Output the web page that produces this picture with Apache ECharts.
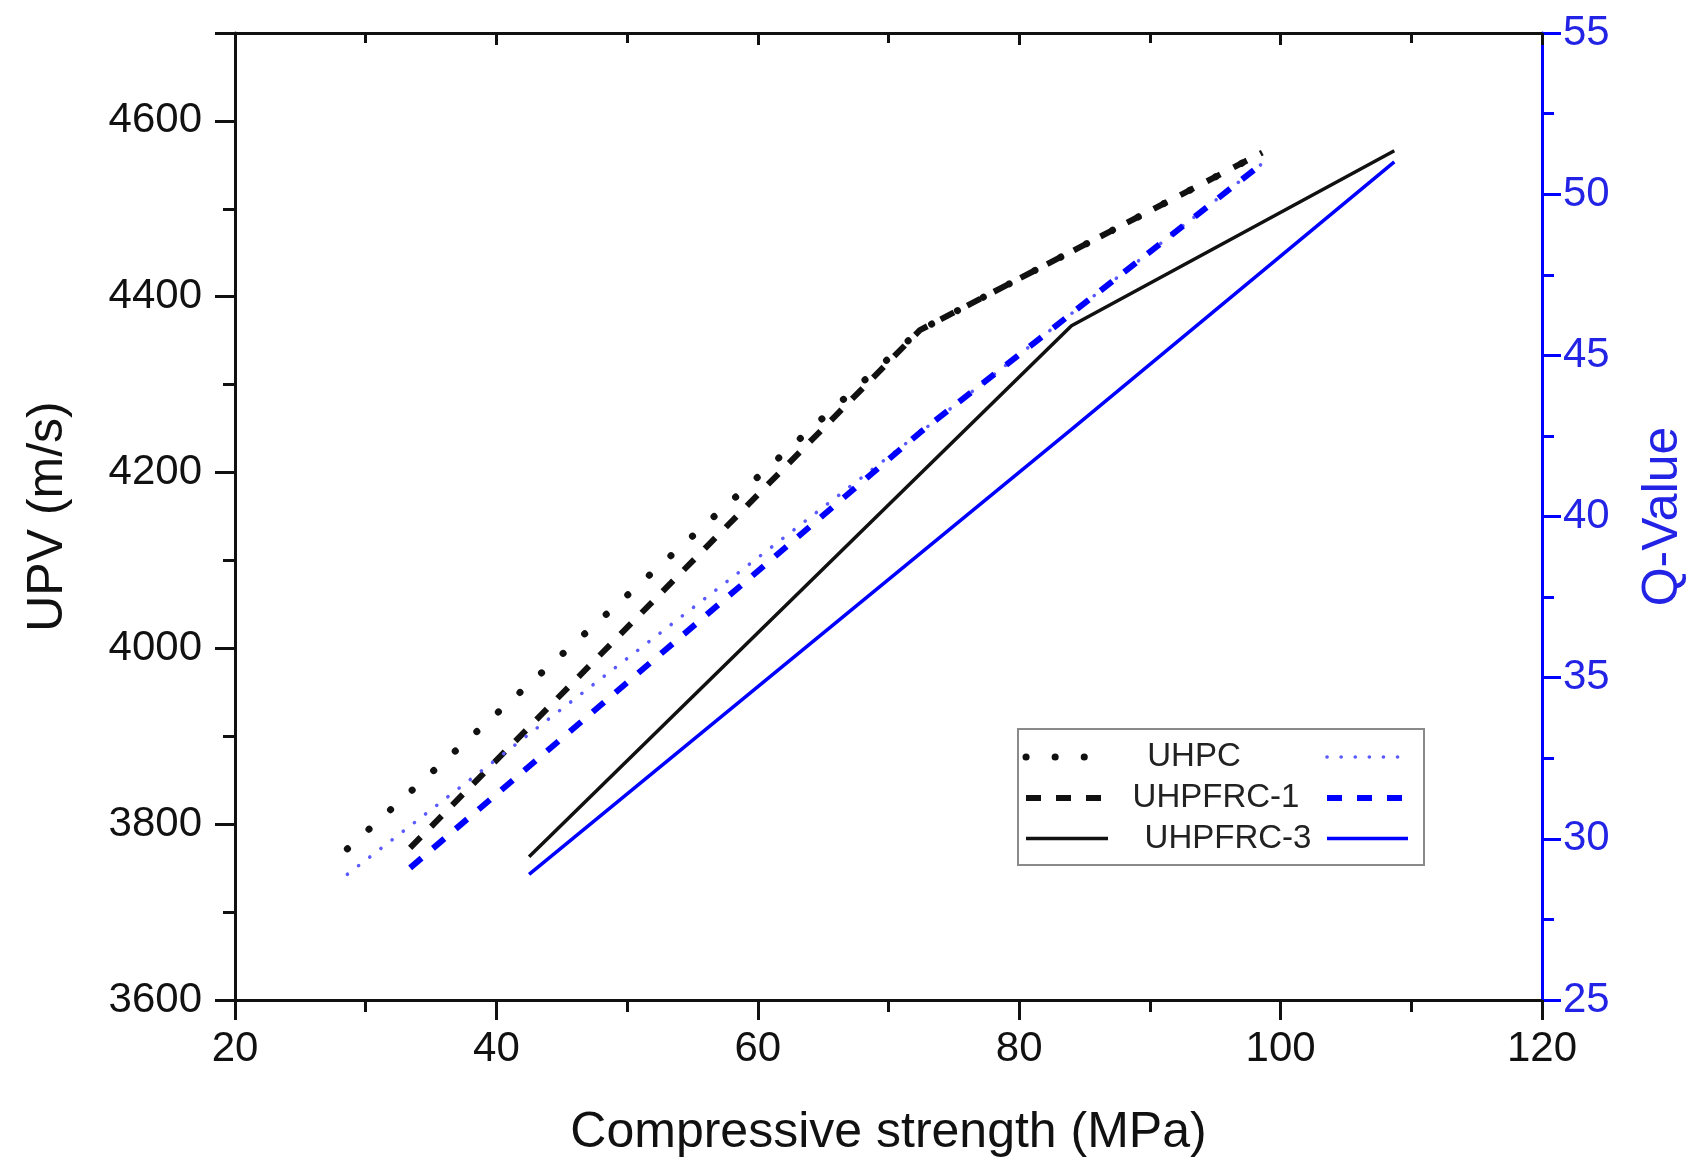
<!DOCTYPE html>
<html>
<head>
<meta charset="utf-8">
<script src="https://cdn.jsdelivr.net/npm/echarts@6/dist/echarts.min.js"></script>
<style>
html,body{margin:0;padding:0;background:#fff;}
#chart{width:1703px;height:1169px;}
</style>
</head>
<body>
<div id="chart"></div>
<script>
// ---- data ----
const seriesNames = ['UHPC', 'UHPFRC-1', 'UHPFRC-3'];
const strengthUHPC = [28.6, 72.4, 98.6];
const upvUHPC = [3772, 4362, 4564];
const qUHPC = [28.9, 42.6, 50.95];
const strengthUHPFRC1 = [33.4, 72.4, 98.6];
const upvUHPFRC1 = [3773, 4362, 4564];
const qUHPFRC1 = [29.1, 42.6, 50.95];
const strengthUHPFRC3 = [42.5, 84.0, 108.7];
const upvUHPFRC3 = [3763, 4367, 4566];
const qUHPFRC3 = [28.9, 42.7, 51.0];

function pairs(xs, ys){ return xs.map((x,i)=>[x, ys[i]]); }

const FONT = '"Liberation Sans", Arial, sans-serif';
const BLUE = '#0000ff';
const BLUE_TXT = '#2323e6';
const BLACK = '#111111';

const chart = echarts.init(document.getElementById('chart'), null, {renderer:'canvas'});

// line styles: [color, width, dash, cap]
const styles = {
  dotBlack:  {color: BLACK, width: 7, dash: [0.1, 29], cap: 'round'},
  dashBlack: {color: BLACK, width: 6, dash: [15, 15], cap: 'butt'},
  solidBlack:{color: BLACK, width: 3.5, dash: null, cap: 'butt'},
  dotBlue:   {color: '#5a5aff', width: 3.6, dash: [0.1, 14], cap: 'round'},
  dashBlue:  {color: BLUE, width: 6, dash: [15, 15], cap: 'butt'},
  solidBlue: {color: BLUE, width: 3.5, dash: null, cap: 'butt'}
};

function lineSeries(name, xs, ys, yIdx, s){
  return {
    name: name, type: 'line', xAxisIndex: 0, yAxisIndex: yIdx,
    data: pairs(xs, ys), showSymbol: false, symbol: 'none',
    lineStyle: {color: s.color, width: s.width, type: s.dash || 'solid', cap: s.cap},
    itemStyle: {color: s.color}, silent: true
  };
}

// legend drawn as graphic elements (layout only)
const legendRows = [
  {name: seriesNames[0], left: styles.dotBlack, right: styles.dotBlue, cx: 1194},
  {name: seriesNames[1], left: styles.dashBlack, right: styles.dashBlue, cx: 1216},
  {name: seriesNames[2], left: styles.solidBlack, right: styles.solidBlue, cx: 1228}
];
const legendRowY = [757, 798, 838.5];
const legendGraphics = [{
  type: 'rect', z: 100,
  shape: {x: 1018, y: 729, width: 406, height: 136},
  style: {fill: '#fff', stroke: '#8a8a8a', lineWidth: 2}
}];
legendRows.forEach((r, i) => {
  const y = legendRowY[i];
  [[r.left, 1026, 1108], [r.right, 1327, 1408]].forEach(([s, x1, x2]) => {
    legendGraphics.push({
      type: 'line', z: 101,
      shape: {x1: x1, y1: y, x2: x2, y2: y},
      style: {stroke: s.color, lineWidth: s.width, lineDash: s.dash, lineCap: s.cap}
    });
  });
  legendGraphics.push({
    type: 'text', z: 101, x: r.cx, y: y,
    style: {text: r.name, font: '33px ' + FONT, fill: '#222', align: 'center', verticalAlign: 'middle'}
  });
});

const option = {
  animation: false,
  backgroundColor: '#ffffff',
  grid: {left: 235, right: 161, top: 33, bottom: 169, containLabel: false},
  xAxis: [{
    type: 'value', position: 'bottom', min: 20, max: 120, interval: 20,
    name: 'Compressive strength (MPa)', nameLocation: 'middle', nameGap: 108,
    nameTextStyle: {fontFamily: FONT, fontSize: 50, color: BLACK},
    axisLine: {show: true, onZero: false, lineStyle: {color: BLACK, width: 3}},
    axisTick: {show: true, inside: false, length: 20, lineStyle: {color: BLACK, width: 3}},
    minorTick: {show: true, splitNumber: 2, length: 12, lineStyle: {color: BLACK, width: 3}},
    axisLabel: {fontFamily: FONT, fontSize: 42, color: BLACK, margin: 28},
    splitLine: {show: false}
  }, {
    type: 'value', position: 'top', min: 20, max: 120, interval: 20,
    axisLine: {show: true, onZero: false, lineStyle: {color: BLACK, width: 3}},
    axisTick: {show: true, inside: true, length: 12, lineStyle: {color: BLACK, width: 3}},
    minorTick: {show: true, splitNumber: 2, length: 10, lineStyle: {color: BLACK, width: 3}},
    axisLabel: {show: false},
    splitLine: {show: false}
  }],
  yAxis: [{
    type: 'value', position: 'left', min: 3600, max: 4700, interval: 200,
    name: 'UPV (m/s)', nameLocation: 'middle', nameGap: 162, nameRotate: 90,
    nameTextStyle: {fontFamily: FONT, fontSize: 50, color: BLACK},
    axisLine: {show: true, onZero: false, lineStyle: {color: BLACK, width: 3}},
    axisTick: {show: true, inside: false, length: 20, lineStyle: {color: BLACK, width: 3}},
    minorTick: {show: true, splitNumber: 2, length: 12, lineStyle: {color: BLACK, width: 3}},
    axisLabel: {fontFamily: FONT, fontSize: 42, color: BLACK, margin: 33, showMaxLabel: false,
                formatter: v => String(v)},
    splitLine: {show: false}
  }, {
    type: 'value', position: 'right', min: 25, max: 55, interval: 5,
    name: 'Q-Value', nameLocation: 'middle', nameGap: 96, nameRotate: 90,
    nameTextStyle: {fontFamily: FONT, fontSize: 50, color: BLUE_TXT},
    axisLine: {show: true, onZero: false, lineStyle: {color: BLUE, width: 3}},
    axisTick: {show: true, inside: false, length: 19, lineStyle: {color: BLUE, width: 3}},
    minorTick: {show: true, splitNumber: 2, length: 12, lineStyle: {color: BLUE, width: 3}},
    axisLabel: {fontFamily: FONT, fontSize: 42, color: BLUE_TXT, margin: 21, formatter: v => String(v)},
    splitLine: {show: false}
  }],
  graphic: legendGraphics,
  series: [
    lineSeries('UHPC', strengthUHPC, upvUHPC, 0, styles.dotBlack),
    lineSeries('UHPFRC-1', strengthUHPFRC1, upvUHPFRC1, 0, styles.dashBlack),
    lineSeries('UHPFRC-3', strengthUHPFRC3, upvUHPFRC3, 0, styles.solidBlack),
    lineSeries('UHPC Q', strengthUHPC, qUHPC, 1, styles.dotBlue),
    lineSeries('UHPFRC-1 Q', strengthUHPFRC1, qUHPFRC1, 1, styles.dashBlue),
    lineSeries('UHPFRC-3 Q', strengthUHPFRC3, qUHPFRC3, 1, styles.solidBlue)
  ]
};
chart.setOption(option);
</script>
</body>
</html>
